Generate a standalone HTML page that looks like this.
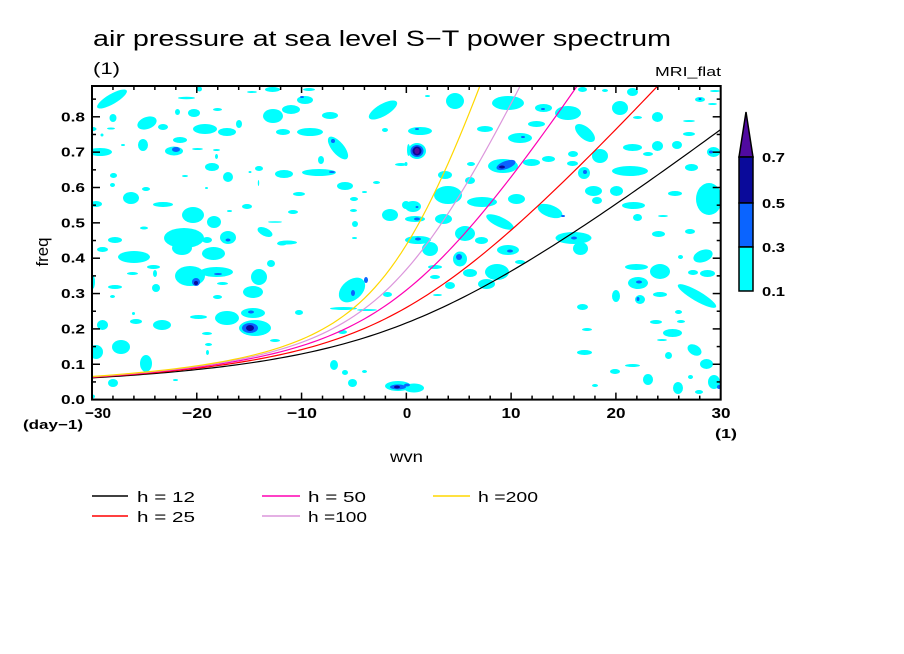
<!DOCTYPE html>
<html><head><meta charset="utf-8"><style>
html,body{margin:0;padding:0;background:#fff;}
svg{display:block;}
text{font-family:"Liberation Sans",sans-serif;fill:#000;}
.b{font-weight:bold;}
</style></head><body>
<svg id="s" width="904" height="654" viewBox="0 0 904 654" xmlns="http://www.w3.org/2000/svg">
<rect width="904" height="654" fill="#fff"/>
<defs><clipPath id="pc"><rect x="92" y="86" width="628.7" height="313.6"/></clipPath></defs>

<g clip-path="url(#pc)">
<g fill="#00ffff">
<ellipse cx="112" cy="99" rx="17" ry="5" transform="rotate(-30 112 99)"/>
<ellipse cx="113" cy="118" rx="3.5" ry="4"/>
<ellipse cx="93" cy="129" rx="3.5" ry="2"/>
<ellipse cx="111" cy="128.5" rx="4" ry="1"/>
<ellipse cx="147" cy="123" rx="10" ry="6" transform="rotate(-20 147 123)"/>
<ellipse cx="163" cy="127" rx="5" ry="3"/>
<ellipse cx="143" cy="145" rx="5" ry="6"/>
<ellipse cx="174" cy="151" rx="9" ry="4.5"/>
<ellipse cx="180" cy="140" rx="7" ry="3"/>
<ellipse cx="100" cy="152" rx="12" ry="4"/>
<ellipse cx="177.5" cy="112" rx="2.5" ry="3"/>
<ellipse cx="194" cy="113" rx="6" ry="4"/>
<ellipse cx="186.5" cy="98" rx="8.5" ry="1.2"/>
<ellipse cx="205" cy="129" rx="12" ry="5"/>
<ellipse cx="227" cy="132" rx="9" ry="4"/>
<ellipse cx="239" cy="124" rx="3" ry="4"/>
<ellipse cx="217.5" cy="109.5" rx="4.5" ry="1.5"/>
<ellipse cx="212" cy="167" rx="7" ry="4"/>
<ellipse cx="216.5" cy="150" rx="3.5" ry="1"/>
<ellipse cx="216.5" cy="156.5" rx="1.5" ry="2.5"/>
<ellipse cx="197.5" cy="149" rx="5.5" ry="1"/>
<ellipse cx="113.5" cy="175.5" rx="3.5" ry="2.5"/>
<ellipse cx="112.5" cy="185" rx="2.5" ry="2"/>
<ellipse cx="185" cy="176" rx="3" ry="1"/>
<ellipse cx="131" cy="198" rx="8" ry="6"/>
<ellipse cx="146" cy="189" rx="4" ry="2"/>
<ellipse cx="163" cy="204.5" rx="10" ry="2.5"/>
<ellipse cx="96" cy="204" rx="6" ry="3"/>
<ellipse cx="193" cy="215" rx="11" ry="8"/>
<ellipse cx="228" cy="177" rx="5" ry="5"/>
<ellipse cx="206.5" cy="188" rx="1.5" ry="1"/>
<ellipse cx="214" cy="222" rx="7" ry="6"/>
<ellipse cx="184" cy="238" rx="20" ry="10"/>
<ellipse cx="182" cy="248" rx="10" ry="7"/>
<ellipse cx="144" cy="228" rx="4" ry="1.5"/>
<ellipse cx="115" cy="240" rx="7" ry="3"/>
<ellipse cx="207" cy="240" rx="5" ry="3"/>
<ellipse cx="228" cy="237.5" rx="8" ry="6.5"/>
<ellipse cx="229.5" cy="211" rx="2.5" ry="1"/>
<ellipse cx="247" cy="206.5" rx="5" ry="2.5"/>
<ellipse cx="265" cy="232" rx="8" ry="4" transform="rotate(25 265 232)"/>
<ellipse cx="287.5" cy="242.5" rx="9.5" ry="2"/>
<ellipse cx="275" cy="222" rx="7" ry="0.8"/>
<ellipse cx="293" cy="212" rx="5" ry="2"/>
<ellipse cx="299" cy="194" rx="6" ry="2"/>
<ellipse cx="284" cy="174" rx="9" ry="4"/>
<ellipse cx="259" cy="168.5" rx="4" ry="2.5"/>
<ellipse cx="258.5" cy="183" rx="0.7" ry="3"/>
<ellipse cx="250" cy="172" rx="1.5" ry="1"/>
<ellipse cx="319" cy="172.5" rx="17" ry="3.5"/>
<ellipse cx="345" cy="186" rx="8" ry="4"/>
<ellipse cx="321" cy="160" rx="3" ry="4"/>
<ellipse cx="338" cy="148" rx="14" ry="6" transform="rotate(50 338 148)"/>
<ellipse cx="310" cy="132" rx="13" ry="4"/>
<ellipse cx="283" cy="132" rx="7" ry="3"/>
<ellipse cx="273" cy="116" rx="10" ry="7"/>
<ellipse cx="291" cy="109.5" rx="9" ry="4.5"/>
<ellipse cx="305" cy="100" rx="8" ry="4"/>
<ellipse cx="272.5" cy="89.5" rx="7.5" ry="2.5"/>
<ellipse cx="309" cy="89.5" rx="6" ry="1.5"/>
<ellipse cx="330" cy="115.5" rx="8" ry="3.5"/>
<ellipse cx="383" cy="110" rx="16" ry="6" transform="rotate(-30 383 110)"/>
<ellipse cx="385" cy="130" rx="3" ry="2"/>
<ellipse cx="401" cy="164.5" rx="6" ry="1.5"/>
<ellipse cx="376.5" cy="182.5" rx="3.5" ry="1.5"/>
<ellipse cx="364.5" cy="192" rx="2.5" ry="1"/>
<ellipse cx="354" cy="199" rx="4" ry="2"/>
<ellipse cx="353.5" cy="210.5" rx="3.5" ry="1.5"/>
<ellipse cx="355" cy="224" rx="3" ry="3"/>
<ellipse cx="354.5" cy="238" rx="2.5" ry="1"/>
<ellipse cx="390" cy="215" rx="8" ry="6"/>
<ellipse cx="406" cy="205" rx="4" ry="4"/>
<ellipse cx="408.5" cy="150" rx="1.5" ry="6"/>
<ellipse cx="199.5" cy="89" rx="2.5" ry="2.5"/>
<ellipse cx="123" cy="145" rx="2" ry="1"/>
<ellipse cx="102" cy="135" rx="1.5" ry="1.5"/>
<ellipse cx="252" cy="92" rx="5" ry="1"/>
<ellipse cx="455" cy="101" rx="9" ry="8"/>
<ellipse cx="427.5" cy="96" rx="2.5" ry="1"/>
<ellipse cx="420" cy="131" rx="12" ry="4"/>
<ellipse cx="417" cy="151" rx="9" ry="8"/>
<ellipse cx="406" cy="164" rx="1.5" ry="2"/>
<ellipse cx="485" cy="129" rx="8" ry="3"/>
<ellipse cx="508" cy="103" rx="16" ry="7"/>
<ellipse cx="520" cy="138" rx="12" ry="5"/>
<ellipse cx="536.5" cy="124" rx="8.5" ry="3"/>
<ellipse cx="543.5" cy="108" rx="8.5" ry="4"/>
<ellipse cx="568" cy="113" rx="13" ry="7"/>
<ellipse cx="585" cy="133" rx="12" ry="6" transform="rotate(40 585 133)"/>
<ellipse cx="600" cy="156" rx="8" ry="7"/>
<ellipse cx="573" cy="154" rx="5" ry="3"/>
<ellipse cx="503" cy="166" rx="15" ry="7"/>
<ellipse cx="531.5" cy="162.5" rx="8.5" ry="3.5"/>
<ellipse cx="548.5" cy="159" rx="6.5" ry="3"/>
<ellipse cx="572.5" cy="163.5" rx="5.5" ry="2.5"/>
<ellipse cx="584" cy="173" rx="6" ry="6"/>
<ellipse cx="471" cy="164" rx="4" ry="2"/>
<ellipse cx="445" cy="175" rx="7" ry="4"/>
<ellipse cx="470" cy="180.5" rx="5" ry="3.5"/>
<ellipse cx="448" cy="195" rx="14" ry="9"/>
<ellipse cx="482" cy="202" rx="15" ry="5"/>
<ellipse cx="516.5" cy="199" rx="8.5" ry="5"/>
<ellipse cx="550" cy="211" rx="13" ry="6" transform="rotate(20 550 211)"/>
<ellipse cx="500" cy="222" rx="15" ry="5" transform="rotate(25 500 222)"/>
<ellipse cx="413" cy="206.5" rx="8" ry="5.5"/>
<ellipse cx="415" cy="219" rx="10" ry="3"/>
<ellipse cx="443.5" cy="219" rx="8.5" ry="5"/>
<ellipse cx="465" cy="233.5" rx="10" ry="7.5"/>
<ellipse cx="418" cy="240" rx="13" ry="4"/>
<ellipse cx="481.5" cy="240.5" rx="6.5" ry="3.5"/>
<ellipse cx="573.5" cy="238" rx="18" ry="6"/>
<ellipse cx="593.5" cy="191" rx="8.5" ry="5"/>
<ellipse cx="616.5" cy="191" rx="6.5" ry="5"/>
<ellipse cx="630" cy="171" rx="18" ry="5"/>
<ellipse cx="597" cy="200.5" rx="5" ry="3.5"/>
<ellipse cx="633.5" cy="205.5" rx="11.5" ry="3.5"/>
<ellipse cx="637.5" cy="217.5" rx="4.5" ry="3.5"/>
<ellipse cx="658.5" cy="234" rx="6.5" ry="3"/>
<ellipse cx="675" cy="193.5" rx="7" ry="2.5"/>
<ellipse cx="690" cy="231.5" rx="5" ry="2.5"/>
<ellipse cx="709" cy="199" rx="13" ry="16"/>
<ellipse cx="691.5" cy="167.5" rx="6.5" ry="3.5"/>
<ellipse cx="713.5" cy="152" rx="6.5" ry="5"/>
<ellipse cx="677" cy="145" rx="5" ry="4"/>
<ellipse cx="657.5" cy="146" rx="5.5" ry="5"/>
<ellipse cx="632.5" cy="147.5" rx="9.5" ry="3.5"/>
<ellipse cx="648" cy="154" rx="5" ry="2"/>
<ellipse cx="689" cy="134" rx="6" ry="2"/>
<ellipse cx="657.5" cy="117" rx="5.5" ry="5"/>
<ellipse cx="637.5" cy="117.5" rx="4.5" ry="1.5"/>
<ellipse cx="620" cy="108" rx="8" ry="7"/>
<ellipse cx="632.5" cy="92" rx="5.5" ry="4"/>
<ellipse cx="605" cy="90.5" rx="3" ry="1.5"/>
<ellipse cx="700" cy="99.5" rx="5" ry="2.5"/>
<ellipse cx="715" cy="91" rx="5" ry="1"/>
<ellipse cx="712.5" cy="104" rx="4.5" ry="1"/>
<ellipse cx="689" cy="121" rx="6" ry="1"/>
<ellipse cx="582.5" cy="89.5" rx="4.5" ry="2.5"/>
<ellipse cx="663" cy="216" rx="5" ry="1"/>
<ellipse cx="102.5" cy="249.5" rx="5.5" ry="2.5"/>
<ellipse cx="134" cy="257" rx="16" ry="6"/>
<ellipse cx="213.5" cy="253.5" rx="11.5" ry="6.5"/>
<ellipse cx="153.5" cy="267" rx="6.5" ry="2"/>
<ellipse cx="271" cy="263.5" rx="4" ry="3.5"/>
<ellipse cx="132.5" cy="273.5" rx="5.5" ry="1.5"/>
<ellipse cx="155" cy="273.5" rx="2" ry="3.5"/>
<ellipse cx="190" cy="276" rx="15" ry="10"/>
<ellipse cx="216.5" cy="272" rx="16.5" ry="5"/>
<ellipse cx="222.5" cy="283.5" rx="5.5" ry="1.5"/>
<ellipse cx="259" cy="277" rx="8" ry="8"/>
<ellipse cx="253" cy="292" rx="10" ry="6"/>
<ellipse cx="92.5" cy="282" rx="2.5" ry="7"/>
<ellipse cx="115" cy="287" rx="7" ry="2"/>
<ellipse cx="156" cy="288" rx="4" ry="4"/>
<ellipse cx="217.5" cy="297" rx="4.5" ry="2"/>
<ellipse cx="112.5" cy="296.5" rx="2.5" ry="1.5"/>
<ellipse cx="133.5" cy="313.5" rx="1.5" ry="1.5"/>
<ellipse cx="136" cy="321.5" rx="6" ry="2.5"/>
<ellipse cx="162" cy="325" rx="9" ry="5"/>
<ellipse cx="102.5" cy="325" rx="5.5" ry="5"/>
<ellipse cx="198.5" cy="317" rx="8.5" ry="2"/>
<ellipse cx="227" cy="318" rx="12" ry="7"/>
<ellipse cx="253" cy="313" rx="12" ry="5"/>
<ellipse cx="255" cy="328" rx="16" ry="8"/>
<ellipse cx="299" cy="312.5" rx="4" ry="2.5"/>
<ellipse cx="275" cy="340.5" rx="5" ry="1.5"/>
<ellipse cx="207" cy="333.5" rx="5" ry="1.5"/>
<ellipse cx="121" cy="347" rx="9" ry="7"/>
<ellipse cx="96" cy="352" rx="7" ry="7"/>
<ellipse cx="208.5" cy="344.5" rx="3.5" ry="1.5"/>
<ellipse cx="207.5" cy="352.5" rx="1.5" ry="2.5"/>
<ellipse cx="146" cy="363.5" rx="6" ry="8.5"/>
<ellipse cx="113" cy="383" rx="5" ry="4"/>
<ellipse cx="175.5" cy="380" rx="2.5" ry="1"/>
<ellipse cx="352" cy="290" rx="15" ry="10" transform="rotate(-40 352 290)"/>
<ellipse cx="387.5" cy="294.5" rx="4.5" ry="2.5"/>
<ellipse cx="343.5" cy="308.5" rx="13.5" ry="1.5"/>
<ellipse cx="367" cy="310" rx="10" ry="1"/>
<ellipse cx="334" cy="365" rx="4" ry="5"/>
<ellipse cx="345" cy="372.5" rx="3" ry="2.5"/>
<ellipse cx="352.5" cy="383" rx="4.5" ry="4"/>
<ellipse cx="364.5" cy="371.5" rx="2.5" ry="1.5"/>
<ellipse cx="398" cy="386" rx="13" ry="5"/>
<ellipse cx="92.5" cy="396.5" rx="2.5" ry="2"/>
<ellipse cx="342.5" cy="332" rx="4.5" ry="2"/>
<ellipse cx="282" cy="243.5" rx="5" ry="2"/>
<ellipse cx="414" cy="388" rx="10" ry="4.5"/>
<ellipse cx="430" cy="249" rx="8" ry="7"/>
<ellipse cx="460" cy="259" rx="7" ry="7.5"/>
<ellipse cx="435" cy="267" rx="7" ry="2"/>
<ellipse cx="435" cy="277" rx="5" ry="2"/>
<ellipse cx="450" cy="285.5" rx="5" ry="3.5"/>
<ellipse cx="437.5" cy="295" rx="4.5" ry="1"/>
<ellipse cx="470" cy="273" rx="7" ry="4"/>
<ellipse cx="497" cy="272" rx="12" ry="8"/>
<ellipse cx="486.5" cy="284" rx="8.5" ry="5"/>
<ellipse cx="508" cy="250" rx="11" ry="5"/>
<ellipse cx="520" cy="262" rx="5" ry="2"/>
<ellipse cx="580.5" cy="248.5" rx="7.5" ry="6.5"/>
<ellipse cx="680.5" cy="257" rx="2.5" ry="2"/>
<ellipse cx="703" cy="256" rx="10" ry="6" transform="rotate(-20 703 256)"/>
<ellipse cx="636.5" cy="267" rx="11.5" ry="3"/>
<ellipse cx="660" cy="271.5" rx="10" ry="7.5"/>
<ellipse cx="693" cy="272.5" rx="5" ry="2.5"/>
<ellipse cx="707.5" cy="273.5" rx="7.5" ry="3.5"/>
<ellipse cx="638" cy="283" rx="10" ry="6"/>
<ellipse cx="616" cy="296" rx="4" ry="6"/>
<ellipse cx="640" cy="299.5" rx="5" ry="4.5"/>
<ellipse cx="660" cy="294.5" rx="7" ry="2.5"/>
<ellipse cx="697" cy="296" rx="22" ry="5" transform="rotate(30 697 296)"/>
<ellipse cx="582.5" cy="307" rx="5.5" ry="3"/>
<ellipse cx="678.5" cy="312" rx="3.5" ry="2"/>
<ellipse cx="587" cy="329.5" rx="5" ry="1.5"/>
<ellipse cx="656" cy="322" rx="6" ry="2"/>
<ellipse cx="681" cy="321.5" rx="4" ry="1.5"/>
<ellipse cx="672.5" cy="333" rx="9.5" ry="4"/>
<ellipse cx="662" cy="340" rx="5" ry="1"/>
<ellipse cx="694.5" cy="350" rx="7.5" ry="5" transform="rotate(30 694.5 350)"/>
<ellipse cx="668.5" cy="355.5" rx="3.5" ry="3.5"/>
<ellipse cx="584.5" cy="352.5" rx="7.5" ry="2.5"/>
<ellipse cx="632.5" cy="365.5" rx="7.5" ry="1.5"/>
<ellipse cx="706.5" cy="364" rx="6.5" ry="5"/>
<ellipse cx="615" cy="371.5" rx="5" ry="2.5"/>
<ellipse cx="648" cy="379.5" rx="5" ry="5.5"/>
<ellipse cx="678" cy="388" rx="5" ry="6"/>
<ellipse cx="690.5" cy="377" rx="2.5" ry="2"/>
<ellipse cx="714" cy="382" rx="6" ry="7"/>
<ellipse cx="699" cy="392" rx="4" ry="2"/>
<ellipse cx="595" cy="385.5" rx="3" ry="1.5"/>
</g>
<g fill="#0a64ff">
<ellipse cx="176" cy="149.5" rx="4" ry="2.5"/>
<ellipse cx="332" cy="172" rx="3" ry="1"/>
<ellipse cx="333" cy="141" rx="2" ry="2"/>
<ellipse cx="302" cy="97" rx="2" ry="1"/>
<ellipse cx="228" cy="240" rx="2.5" ry="1.5"/>
<ellipse cx="417" cy="129" rx="2" ry="1"/>
<ellipse cx="417" cy="151" rx="6.5" ry="6"/>
<ellipse cx="523" cy="137" rx="2" ry="1"/>
<ellipse cx="543" cy="109" rx="2" ry="1"/>
<ellipse cx="506" cy="165" rx="10" ry="4" transform="rotate(-20 506 165)"/>
<ellipse cx="585" cy="172" rx="2" ry="2"/>
<ellipse cx="563" cy="216" rx="2" ry="1"/>
<ellipse cx="417" cy="207" rx="1.5" ry="1"/>
<ellipse cx="417" cy="219" rx="3" ry="1.5"/>
<ellipse cx="418" cy="239" rx="3" ry="1.5"/>
<ellipse cx="574" cy="238" rx="3" ry="1.5"/>
<ellipse cx="711" cy="152" rx="2" ry="1.5"/>
<ellipse cx="700" cy="99" rx="1.5" ry="1"/>
<ellipse cx="196" cy="282" rx="4" ry="4"/>
<ellipse cx="218" cy="274" rx="4" ry="1"/>
<ellipse cx="251" cy="312" rx="3" ry="1.5"/>
<ellipse cx="250" cy="328" rx="8" ry="5"/>
<ellipse cx="353" cy="293" rx="2" ry="3"/>
<ellipse cx="366" cy="280" rx="2" ry="3"/>
<ellipse cx="398" cy="387" rx="8" ry="2.5"/>
<ellipse cx="407" cy="385" rx="3" ry="1.5"/>
<ellipse cx="459" cy="257" rx="3" ry="3"/>
<ellipse cx="510" cy="251" rx="3" ry="1.5"/>
<ellipse cx="639" cy="282" rx="3" ry="1.5"/>
<ellipse cx="638" cy="299" rx="1.5" ry="2"/>
<ellipse cx="719" cy="387" rx="2" ry="2"/>
</g>
<g fill="#0a0a9a">
<ellipse cx="417" cy="151" rx="4.5" ry="4.5"/>
<ellipse cx="502" cy="167" rx="3" ry="1.5"/>
<ellipse cx="196" cy="283" rx="2" ry="2"/>
<ellipse cx="250" cy="328" rx="4" ry="3"/>
<ellipse cx="397" cy="387" rx="3" ry="1.5"/>
</g>
<ellipse cx="417" cy="151" rx="2.5" ry="3" fill="#500aa0"/>
<g id="curves" fill="none" stroke-width="1.2"></g>
</g>

<g id="ticks" stroke="#000" stroke-width="1.5"></g>
<rect x="92" y="86" width="628.7" height="313.6" fill="none" stroke="#000" stroke-width="2"/>

<polygon points="739,157 753,157 746,112" fill="#500aa0" stroke="#000" stroke-width="1.5"/>
<rect x="739" y="157" width="14" height="46" fill="#0a0a9a" stroke="#000" stroke-width="1.5"/>
<rect x="739" y="203" width="14" height="44" fill="#0a64ff" stroke="#000" stroke-width="1.5"/>
<rect x="739" y="247" width="14" height="44" fill="#00ffff" stroke="#000" stroke-width="1.5"/>
<text class="b" x="762" y="162" font-size="13" textLength="23" lengthAdjust="spacingAndGlyphs">0.7</text>
<text class="b" x="762" y="208" font-size="13" textLength="23" lengthAdjust="spacingAndGlyphs">0.5</text>
<text class="b" x="762" y="252" font-size="13" textLength="23" lengthAdjust="spacingAndGlyphs">0.3</text>
<text class="b" x="762" y="296" font-size="13" textLength="23" lengthAdjust="spacingAndGlyphs">0.1</text>

<text x="93" y="46" font-size="22" textLength="578" lengthAdjust="spacingAndGlyphs">air pressure at sea level S−T power spectrum</text>
<text x="93" y="74" font-size="17" textLength="27" lengthAdjust="spacingAndGlyphs">(1)</text>
<text x="721" y="76" font-size="13" text-anchor="end" textLength="66" lengthAdjust="spacingAndGlyphs">MRI_flat</text>

<g class="b" font-size="13" text-anchor="end">
<text x="85" y="404.1" textLength="24" lengthAdjust="spacingAndGlyphs">0.0</text>
<text x="85" y="368.75" textLength="24" lengthAdjust="spacingAndGlyphs">0.1</text>
<text x="85" y="333.4" textLength="24" lengthAdjust="spacingAndGlyphs">0.2</text>
<text x="85" y="298.05" textLength="24" lengthAdjust="spacingAndGlyphs">0.3</text>
<text x="85" y="262.7" textLength="24" lengthAdjust="spacingAndGlyphs">0.4</text>
<text x="85" y="227.35" textLength="24" lengthAdjust="spacingAndGlyphs">0.5</text>
<text x="85" y="192" textLength="24" lengthAdjust="spacingAndGlyphs">0.6</text>
<text x="85" y="156.65" textLength="24" lengthAdjust="spacingAndGlyphs">0.7</text>
<text x="85" y="121.3" textLength="24" lengthAdjust="spacingAndGlyphs">0.8</text>
</g>
<g class="b" font-size="15" text-anchor="middle">
<text x="98" y="418" textLength="26" lengthAdjust="spacingAndGlyphs">−30</text>
<text x="197" y="418" textLength="30" lengthAdjust="spacingAndGlyphs">−20</text>
<text x="302" y="418" textLength="30" lengthAdjust="spacingAndGlyphs">−10</text>
<text x="407" y="418">0</text>
<text x="511" y="418" textLength="19" lengthAdjust="spacingAndGlyphs">10</text>
<text x="616" y="418" textLength="19" lengthAdjust="spacingAndGlyphs">20</text>
<text x="721" y="418" textLength="19" lengthAdjust="spacingAndGlyphs">30</text>
</g>
<text class="b" x="23" y="429" font-size="13" textLength="60" lengthAdjust="spacingAndGlyphs">(day−1)</text>
<text class="b" x="715" y="438" font-size="13" textLength="22" lengthAdjust="spacingAndGlyphs">(1)</text>
<text x="0" y="0" font-size="17" text-anchor="middle" textLength="29" lengthAdjust="spacingAndGlyphs" transform="translate(48 252) rotate(-90)">freq</text>
<text x="390" y="462" font-size="16" textLength="33" lengthAdjust="spacingAndGlyphs">wvn</text>

<g stroke-width="1.6">
<line x1="92" y1="496" x2="128" y2="496" stroke="#000"/>
<line x1="92" y1="516" x2="128" y2="516" stroke="#ff0000"/>
<line x1="262" y1="496" x2="300" y2="496" stroke="#ff00b4"/>
<line x1="262" y1="516" x2="300" y2="516" stroke="#dc96dc"/>
<line x1="433" y1="496" x2="470" y2="496" stroke="#ffd700"/>
</g>
<g font-size="15">
<text x="137" y="502" textLength="58" lengthAdjust="spacingAndGlyphs">h = 12</text>
<text x="137" y="522" textLength="58" lengthAdjust="spacingAndGlyphs">h = 25</text>
<text x="308" y="502" textLength="58" lengthAdjust="spacingAndGlyphs">h = 50</text>
<text x="308" y="522" textLength="59" lengthAdjust="spacingAndGlyphs">h =100</text>
<text x="478" y="502" textLength="60" lengthAdjust="spacingAndGlyphs">h =200</text>
</g>
</svg>
<script>
(function(){
var NS="http://www.w3.org/2000/svg";
function X(w){return 92+(w+30)*10.478;}
function Y(f){return 399.6-f*353.5;}
var t=document.getElementById("ticks");
function ln(x1,y1,x2,y2){var l=document.createElementNS(NS,"line");l.setAttribute("x1",x1);l.setAttribute("y1",y1);l.setAttribute("x2",x2);l.setAttribute("y2",y2);t.appendChild(l);}
for(var w=-30;w<=30;w+=2){var x=X(w);var L=(w%10===0)?7:4;ln(x,399.6,x,399.6-L);ln(x,86,x,86+L);}
for(var i=0;i<=17;i++){var y=Y(i*0.05);var L=(i%2===0)?8:4;ln(92,y,92+L,y);ln(720.7,y,720.7-L,y);}
var g=document.getElementById("curves");
var hs=[[12,"#000000"],[25,"#ff0000"],[50,"#ff00b4"],[100,"#dc96dc"],[200,"#ffd700"]];
var a=6.371e6,beta=2*7.292e-5/a;
hs.forEach(function(p){var c=Math.sqrt(9.81*p[0]);var d="";
for(var w=-30;w<=30.001;w+=0.5){var k=w/a;var om=k*c/2+Math.sqrt(k*k*c*c/4+beta*c);var f=om*86400/(2*Math.PI);
var yy=Y(f);if(yy<60){d+=(d?"L":"M")+X(w).toFixed(2)+" "+yy.toFixed(2);break;}
d+=(d?"L":"M")+X(w).toFixed(2)+" "+yy.toFixed(2);}
var pa=document.createElementNS(NS,"path");pa.setAttribute("d",d);pa.setAttribute("stroke",p[1]);g.appendChild(pa);});
})();
</script>
</body></html>
